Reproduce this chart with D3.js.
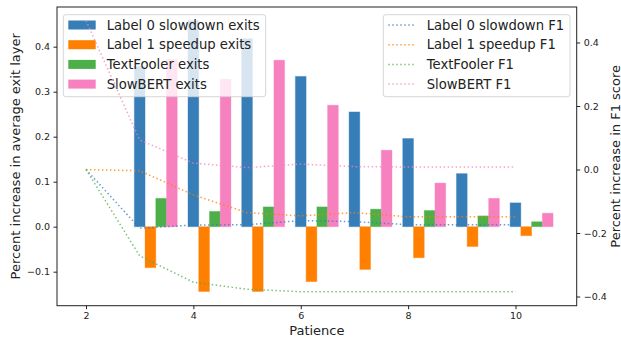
<!DOCTYPE html>
<html>
<head>
<meta charset="utf-8">
<script src="https://cdn.jsdelivr.net/npm/d3@7"></script>
<style>
  body { margin: 0; background: #fff; }
  svg { display: block; font-family: "DejaVu Sans", sans-serif; }
  .axis path, .axis line { stroke: #222; }
  .axis text { fill: #222; font-size: 9.5px; font-family: "DejaVu Sans", sans-serif; }
</style>
</head>
<body>
<div id="chart"></div>
<script>
// patience settings on the x axis
var patience = [2, 3, 4, 5, 6, 7, 8, 9, 10];

// bar series (left axis), null = no bar
var slowdownExits = [null, 0.356, 0.458, 0.418, 0.334, 0.255, 0.196, 0.118, 0.053];
var speedupExits  = [null, -0.091, -0.144, -0.144, -0.122, -0.095, -0.069, -0.044, -0.020];
var foolerExits   = [0, 0.063, 0.034, 0.044, 0.044, 0.039, 0.036, 0.024, 0.011];
var slowbertExits = [null, 0.372, 0.328, 0.370, 0.270, 0.170, 0.097, 0.063, 0.030];

// line series (right axis)
var slowdownF1 = [0, -0.185, -0.175, -0.174, -0.161, -0.164, -0.174, -0.174, -0.174];
var speedupF1  = [0, -0.004, -0.080, -0.136, -0.146, -0.136, -0.149, -0.149, -0.149];
var foolerF1   = [0, -0.272, -0.355, -0.377, -0.385, -0.385, -0.385, -0.385, -0.385];
var slowbertF1 = [0.469, 0.093, 0.020, 0.006, 0.017, 0.009, 0.008, 0.008, 0.008];

var leftTicks = [-0.1, 0.0, 0.1, 0.2, 0.3, 0.4];
var rightTicks = [-0.4, -0.2, 0.0, 0.2, 0.4];
var xTicks = [2, 4, 6, 8, 10];

var colors = ['#377eb8', '#ff7f00', '#4daf4a', '#f781bf'];
var barNames = ['Label 0 slowdown exits', 'Label 1 speedup exits', 'TextFooler exits', 'SlowBERT exits'];
var lineNames = ['Label 0 slowdown F1', 'Label 1 speedup F1', 'TextFooler F1', 'SlowBERT F1'];

(function(d3){
  'use strict';

  var W = 621, H = 339;
  var plot = {left: 57, right: 576.7, top: 7, bottom: 305.7};

  var svg = d3.select('#chart').append('svg')
    .attr('width', W)
    .attr('height', H);

  var x = d3.scaleLinear().domain([1.46, 11.14]).range([plot.left, plot.right]);
  var yL = d3.scaleLinear().domain([-0.1, 0.4]).range([271.7, 46.7]);
  yL.domain([yL.invert(plot.bottom), yL.invert(plot.top)]).range([plot.bottom, plot.top]);
  var yR = d3.scaleLinear().domain([-0.4, 0.4]).range([296.5, 42.5]);
  yR.domain([yR.invert(plot.bottom), yR.invert(plot.top)]).range([plot.bottom, plot.top]);

  var barSeries = [slowdownExits, speedupExits, foolerExits, slowbertExits];
  var lineSeries = [slowdownF1, speedupF1, foolerF1, slowbertF1];
  var barW = 0.2;

  // bars
  var bars = svg.append('g');
  barSeries.forEach(function(vals, i) {
    var rows = patience.map(function(p, j) { return {p: p, v: vals[j]}; })
      .filter(function(d) { return d.v !== null; });
    bars.append('g')
      .selectAll('rect')
      .data(rows)
      .enter()
      .append('rect')
      .attr('x', function(d) { return x(d.p + i * barW - barW / 2); })
      .attr('width', function() { return x(barW) - x(0); })
      .attr('y', function(d) { return yL(Math.max(0, d.v)); })
      .attr('height', function(d) { return Math.abs(yL(d.v) - yL(0)); })
      .attr('fill', colors[i])
      .attr('stroke', colors[i])
      .attr('stroke-opacity', 0.35)
      .attr('stroke-width', 1);
  });

  // legend for bars (under the F1 lines)
  var leg1 = svg.append('g').attr('transform', 'translate(63.3,14.7)');
  leg1.append('rect')
    .attr('width', 202.4).attr('height', 82).attr('rx', 2.5)
    .attr('fill', '#fff').attr('fill-opacity', 0.8)
    .attr('stroke', '#ccc').attr('stroke-opacity', 0.8);
  barNames.forEach(function(name, i) {
    var cy = 10.3 + i * 19.7;
    leg1.append('rect')
      .attr('x', 5).attr('y', cy - 4.5)
      .attr('width', 27.4).attr('height', 9)
      .attr('fill', colors[i]);
    leg1.append('text')
      .attr('x', 43.4).attr('y', cy + 4.7)
      .attr('font-size', '13.2px')
      .attr('fill', '#222')
      .text(name);
  });

  // F1 lines
  var line = d3.line()
    .x(function(d) { return x(d.p); })
    .y(function(d) { return yR(d.v); });
  lineSeries.forEach(function(vals, i) {
    var rows = patience.map(function(p, j) { return {p: p, v: vals[j]}; });
    svg.append('path')
      .datum(rows)
      .attr('d', line)
      .attr('fill', 'none')
      .attr('stroke', colors[i])
      .attr('stroke-opacity', 0.75)
      .attr('stroke-width', 1.5)
      .attr('stroke-dasharray', '1.5,2.5');
  });

  // frame
  svg.append('rect')
    .attr('x', plot.left).attr('y', plot.top)
    .attr('width', plot.right - plot.left).attr('height', plot.bottom - plot.top)
    .attr('fill', 'none').attr('stroke', '#222').attr('stroke-width', 1);

  // axes
  var fmt = function(d) { return d3.format('.1f')(d).replace('-', '\u2212'); };
  svg.append('g').attr('class', 'axis')
    .attr('transform', 'translate(0,' + plot.bottom + ')')
    .call(d3.axisBottom(x).tickValues(xTicks).tickSize(3.5).tickPadding(3.5).tickFormat(d3.format('d')))
    .call(function(g) { g.select('.domain').remove(); });
  svg.append('g').attr('class', 'axis')
    .attr('transform', 'translate(' + plot.left + ',0)')
    .call(d3.axisLeft(yL).tickValues(leftTicks).tickSize(3.5).tickPadding(3.5).tickFormat(fmt))
    .call(function(g) { g.select('.domain').remove(); });
  svg.append('g').attr('class', 'axis')
    .attr('transform', 'translate(' + plot.right + ',0)')
    .call(d3.axisRight(yR).tickValues(rightTicks).tickSize(3.5).tickPadding(3.5).tickFormat(fmt))
    .call(function(g) { g.select('.domain').remove(); });

  // axis labels
  svg.append('text')
    .attr('x', (plot.left + plot.right) / 2).attr('y', 335)
    .attr('text-anchor', 'middle').attr('font-size', '13px').attr('fill', '#222')
    .text('Patience');
  svg.append('text')
    .attr('transform', 'translate(19.5,' + (plot.top + plot.bottom) / 2 + ') rotate(-90)')
    .attr('text-anchor', 'middle').attr('font-size', '13px').attr('fill', '#222')
    .text('Percent increase in average exit layer');
  svg.append('text')
    .attr('transform', 'translate(619.5,' + (plot.top + plot.bottom) / 2 + ') rotate(-90)')
    .attr('text-anchor', 'middle').attr('font-size', '13px').attr('fill', '#222')
    .text('Percent increase in F1 score');

  // legend for lines
  var leg2 = svg.append('g').attr('transform', 'translate(383.3,14.7)');
  leg2.append('rect')
    .attr('width', 186.7).attr('height', 82).attr('rx', 2.5)
    .attr('fill', '#fff').attr('fill-opacity', 0.8)
    .attr('stroke', '#ccc').attr('stroke-opacity', 0.8);
  lineNames.forEach(function(name, i) {
    var cy = 10.3 + i * 19.7;
    leg2.append('line')
      .attr('x1', 5).attr('x2', 31.7).attr('y1', cy).attr('y2', cy)
      .attr('stroke', colors[i]).attr('stroke-opacity', 0.75)
      .attr('stroke-width', 1.5).attr('stroke-dasharray', '1.5,2.5');
    leg2.append('text')
      .attr('x', 43.4).attr('y', cy + 4.7)
      .attr('font-size', '13.2px')
      .attr('fill', '#222')
      .text(name);
  });
})(window.d3);
</script>
</body>
</html>
